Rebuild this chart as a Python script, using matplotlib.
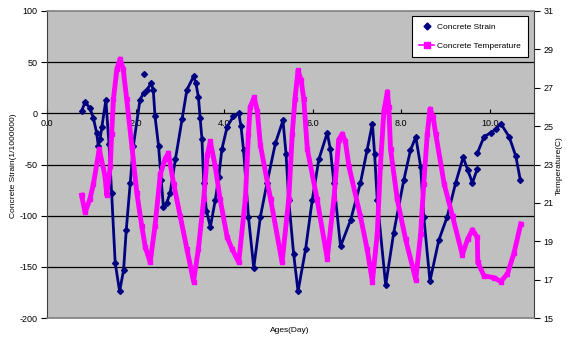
import numpy as np
import matplotlib
matplotlib.use('Agg')
import matplotlib.pyplot as plt
from matplotlib.lines import Line2D

plt.rcParams['font.family'] = ['Liberation Sans', 'DejaVu Sans']
plt.rcParams['axes.unicode_minus'] = False

# strain, first run (day, 1/1000000)
strain_day_a = [0.78, 0.86, 0.97, 1.05, 1.12, 1.16, 1.20, 1.24, 1.33, 1.40, 1.46, 1.54, 1.64,
                1.73, 1.79, 1.88, 1.95, 2.10, 2.18, 2.26, 2.35, 2.40, 2.44, 2.52, 2.58, 2.63,
                2.70, 2.78, 2.90, 3.05, 3.16, 3.31, 3.36, 3.42, 3.46, 3.50, 3.54, 3.60, 3.69,
                3.80, 3.88, 3.95, 4.07, 4.21, 4.33, 4.38, 4.44, 4.55, 4.67, 4.82, 4.97, 5.16,
                5.33, 5.40, 5.46, 5.57, 5.67, 5.84, 5.99, 6.14, 6.33, 6.40, 6.48, 6.63, 6.86,
                7.08, 7.23, 7.35, 7.40, 7.46, 7.65, 7.83, 8.06, 8.21, 8.33, 8.44, 8.51, 8.65,
                8.85, 9.04, 9.23, 9.40, 9.50, 9.61, 9.72]
strain_a = [2, 11, 5, -5, -19, -32, -25, -13, 13, -30, -78, -146, -174,
            -153, -114, -68, -32, 13, 20, 23, 29.5, 23, -3, -32, -65, -92,
            -88, -78, -45, -6, 23, 36, 30, 16, -5, -25, -68, -95, -111,
            -85, -62, -35, -13, -3, 0, -12, -36, -101, -151, -101, -68, -29,
            -7, -40, -85, -137, -174, -133, -85, -45, -19, -35, -68, -130, -104,
            -68, -36, -10, -40, -85, -168, -117, -65, -36, -23, -52, -101, -164,
            -124, -101, -68, -43, -55, -68, -54]
# strain, second run after the gap
strain_day_b = [9.72, 9.87, 10.02, 10.15, 10.25, 10.44, 10.59, 10.69]
strain_b = [-39, -23, -19, -15, -10, -23, -42, -65]
# lone reading
outlier_day = [2.18]
outlier_strain = [38.6]

# temperature (day, C)
temp_day = [0.78, 0.86, 0.97, 1.05, 1.18, 1.31, 1.35, 1.43, 1.46, 1.50, 1.58, 1.65, 1.72,
            1.80, 1.92, 2.03, 2.14, 2.22, 2.33, 2.44, 2.56, 2.67, 2.74, 2.86, 3.01, 3.16,
            3.31, 3.42, 3.54, 3.62, 3.69, 3.80, 3.91, 4.07, 4.18, 4.33, 4.48, 4.55, 4.59,
            4.68, 4.75, 4.82, 5.05, 5.31, 5.46, 5.54, 5.60, 5.67, 5.74, 5.80, 5.88, 6.10,
            6.33, 6.48, 6.59, 6.67, 6.74, 6.82, 7.08, 7.23, 7.35, 7.46, 7.53, 7.61, 7.69,
            7.72, 7.76, 7.91, 8.10, 8.33, 8.44, 8.51, 8.59, 8.65, 8.72, 8.78, 8.97, 9.16,
            9.38, 9.50, 9.61, 9.72, 9.73, 9.87, 10.10, 10.25, 10.40, 10.55, 10.70]
temp = [21.4, 20.5, 21.2, 22.0, 23.8, 22.4, 21.4, 22.9, 24.6, 26.4, 28.0, 28.5, 28.0,
        26.4, 23.9, 21.5, 19.8, 18.7, 17.9, 19.8, 22.5, 23.3, 23.6, 22.0, 20.3, 18.6,
        16.9, 18.6, 21.2, 23.5, 24.2, 22.9, 21.2, 19.2, 18.6, 17.9, 21.2, 24.6, 26.0,
        26.5, 25.8, 24.0, 21.2, 17.9, 21.2, 24.6, 26.4, 27.9, 27.4, 26.4, 23.8, 21.2,
        18.1, 21.2, 24.3, 24.6, 24.2, 22.9, 20.3, 18.6, 16.9, 19.4, 22.9, 25.8, 26.8,
        26.0, 23.8, 21.2, 19.1, 17.0, 19.4, 22.0, 24.6, 25.9, 25.5, 24.6, 22.0, 20.3,
        18.3, 19.1, 19.6, 19.2, 17.9, 17.2, 17.1, 16.9, 17.3, 18.4, 19.9]

x_ticks = [0, 2, 4, 6, 8, 10]
x_labels = ['0.0', '2.0', '4.0', '6.0', '8.0', '10.0']

NAVY = '#000080'
MAGENTA = '#ff00ff'
W, H = 568, 339

fig = plt.figure(figsize=(W / 100, H / 100), dpi=100)
ax = fig.add_axes([47 / W, 21 / H, 487 / W, 307 / H])
ax.set_facecolor('#c0c0c0')

for y in [50, -50, -100, -150]:
    ax.axhline(y, color='black', lw=0.9, zorder=1)

# strain: dense markers drawn as a thick dotted trace
for dx, dy in [(strain_day_a, strain_a), (strain_day_b, strain_b)]:
    ax.plot(dx, dy, color=NAVY, lw=2.0, zorder=3)
    ax.plot(dx, dy, 'D', color=NAVY, ms=3.0, zorder=3)
ax.plot(outlier_day, outlier_strain, 'D', color=NAVY, ms=3.0, zorder=3)

ax.set_xlim(0, 11)
ax.set_ylim(-200, 100)
ax.set_yticks([100, 50, 0, -50, -100, -150, -200])
ax.set_xticks(x_ticks)
ax.set_xticklabels(x_labels)
ax.spines['bottom'].set_position(('data', 0))
ax.spines['bottom'].set_linewidth(0.9)
ax.spines['top'].set_visible(False)
ax.spines['right'].set_visible(False)
ax.spines['left'].set_color('#404040')
ax.tick_params(axis='x', direction='in', length=3, pad=4, labelsize=6.5)
ax.tick_params(axis='y', direction='out', length=4, pad=3, labelsize=6.5)

fig.text(14 / W, 1 - 166 / H, 'Concrete Strain(1/1000000)', fontsize=6,
         rotation=90, ha='center', va='center')
fig.text(290 / W, 1 - 331 / H, 'Ages(Day)', fontsize=6, ha='center', va='center')
fig.text(559 / W, 1 - 166 / H, 'Temperature(C)', fontsize=6,
         rotation=90, ha='center', va='center')

ax2 = ax.twinx()
ax2.plot(temp_day, temp, color=MAGENTA, lw=3.5, marker='s', ms=3.5, zorder=4)
ax2.set_ylim(15, 31)
ax2.set_yticks(np.arange(15, 32, 2))
ax2.tick_params(axis='y', direction='out', length=4, pad=3, labelsize=6.5)
for s in ['top', 'bottom']:
    ax2.spines[s].set_color('#808080')
    ax2.spines[s].set_linewidth(1.2)
ax2.spines['left'].set_visible(False)
ax2.spines['right'].set_color('#404040')

handles = [Line2D([], [], color=NAVY, marker='D', ls='none', ms=3.5),
           Line2D([], [], color=MAGENTA, marker='s', lw=1.2, ms=4)]
leg = ax2.legend(handles, ['Concrete Strain', 'Concrete Temperature'], loc='upper right',
                 bbox_to_anchor=(0.988, 0.984), borderaxespad=0, fontsize=6,
                 frameon=True, fancybox=False, edgecolor='black', framealpha=1,
                 borderpad=0.9, labelspacing=1.3, handlelength=1.8, handletextpad=0.3)
leg.get_frame().set_linewidth(0.8)

fig.savefig('out.png', dpi=100)
